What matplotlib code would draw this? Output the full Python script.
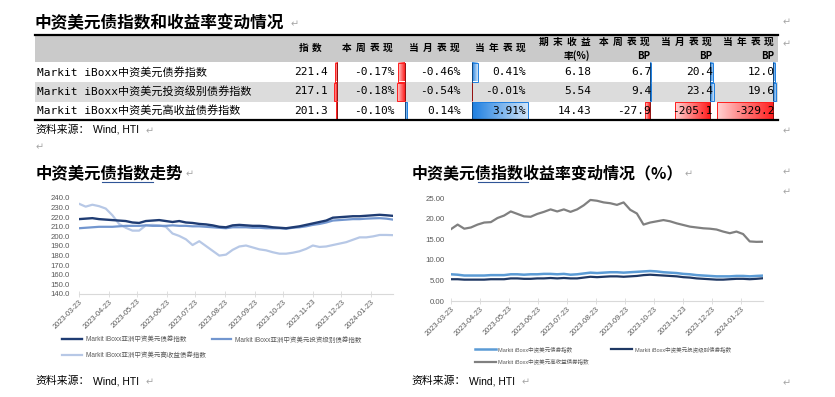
import matplotlib
matplotlib.use("Agg")
import matplotlib.pyplot as plt
import matplotlib.colors as mcolors
import matplotlib.dates as mdates
from matplotlib.patches import Rectangle
import numpy as np
import pandas as pd

plt.rcParams['font.family'] = ['Noto Sans CJK SC', 'DejaVu Sans']

# ---------------- data ----------------
table_title = "中资美元债指数和收益率变动情况"
headers = ["指数", "本周表现", "当月表现", "当年表现", "期末收益", "本周表现", "当月表现", "当年表现"]
headers_2nd = ["", "", "", "", "率(%)", "BP", "BP", "BP"]
names = ["Markit iBoxx中资美元债券指数",
         "Markit iBoxx中资美元投资级别债券指数",
         "Markit iBoxx中资美元高收益债券指数"]
index_vals = [221.4, 217.1, 201.3]
week_ret = [-0.17, -0.18, -0.10]
month_ret = [-0.46, -0.54, 0.14]
year_ret = [0.41, -0.01, 3.91]
end_yield = [6.18, 5.54, 14.43]
week_bp = [6.7, 9.4, -27.9]
month_bp = [20.4, 23.4, -205.1]
year_bp = [12.0, 19.6, -329.2]
source_text = "资料来源："
source_tail = "Wind, HTI"

left_title = "中资美元债指数走势"
right_title = "中资美元债指数收益率变动情况（%）"

dates = pd.date_range("2023-03-23", periods=48, freq="7D")
tick_dates = pd.to_datetime(["2023-03-23", "2023-04-23", "2023-05-23", "2023-06-23",
                             "2023-07-23", "2023-08-23", "2023-09-23", "2023-10-23",
                             "2023-11-23", "2023-12-23", "2024-01-23"])

idx_all = [218.0, 218.5, 219.0, 218.0, 217.5, 217.0, 216.5, 216.0, 214.5, 214.0,
           216.0, 216.5, 217.0, 216.0, 215.0, 216.0, 214.5, 214.0, 213.0, 212.5,
           211.5, 210.0, 209.5, 211.5, 212.0, 211.5, 211.0, 211.0, 210.5, 209.5,
           209.0, 208.5, 209.5, 210.5, 212.0, 213.5, 215.0, 216.5, 219.5, 220.0,
           220.5, 221.0, 221.0, 221.5, 222.0, 222.5, 222.0, 221.4]
idx_ig = [208.5, 209.0, 209.5, 210.0, 210.0, 210.0, 210.5, 211.0, 211.0, 211.0,
          211.5, 211.0, 211.0, 211.0, 211.5, 211.0, 211.0, 210.5, 210.5, 210.0,
          209.5, 209.0, 208.5, 209.5, 209.5, 209.5, 209.0, 209.0, 208.5, 208.5,
          208.5, 208.0, 209.0, 209.5, 210.5, 212.0, 213.0, 214.5, 216.5, 217.0,
          217.5, 218.0, 218.0, 218.5, 218.8, 219.0, 218.5, 217.5]
idx_hy = [234.0, 231.0, 233.0, 231.5, 229.0, 222.0, 213.0, 209.0, 206.0, 206.0,
          211.5, 212.0, 211.5, 210.0, 203.0, 200.5, 197.0, 191.0, 195.0, 190.0,
          185.0, 180.0, 181.0, 186.0, 189.5, 190.5, 188.5, 186.5, 185.5, 183.5,
          182.0, 182.0, 183.0, 184.5, 187.0, 190.5, 189.0, 189.5, 191.0, 192.5,
          194.0, 196.5, 199.0, 199.0, 200.0, 201.5, 201.5, 201.3]

yld_all = [6.5, 6.4, 6.2, 6.2, 6.2, 6.2, 6.3, 6.3, 6.3, 6.5, 6.5, 6.4, 6.5, 6.5, 6.6, 6.6,
           6.5, 6.6, 6.4, 6.5, 6.7, 6.9, 6.8, 6.9, 7.0, 7.0, 6.9, 7.0, 7.1, 7.2, 7.3, 7.2,
           7.0, 6.9, 6.8, 6.6, 6.5, 6.3, 6.2, 6.1, 6.0, 6.0, 6.0, 6.1, 6.1, 6.0, 6.1, 6.18]
yld_ig = [5.3, 5.3, 5.2, 5.2, 5.2, 5.2, 5.3, 5.3, 5.3, 5.5, 5.5, 5.4, 5.4, 5.5, 5.5, 5.6,
          5.5, 5.6, 5.5, 5.5, 5.7, 5.9, 5.8, 5.9, 6.0, 6.0, 5.9, 6.0, 6.1, 6.3, 6.4, 6.3,
          6.2, 6.1, 6.0, 5.8, 5.7, 5.5, 5.4, 5.3, 5.2, 5.2, 5.3, 5.4, 5.4, 5.3, 5.4, 5.54]
yld_hy = [17.5, 18.6, 17.6, 17.9, 18.6, 19.1, 19.2, 20.2, 20.8, 21.8, 21.2, 20.6, 20.5, 21.2,
          21.7, 22.3, 21.8, 22.3, 21.7, 22.3, 23.3, 24.6, 24.4, 24.0, 23.8, 23.4, 24.0, 22.2,
          21.3, 18.6, 19.1, 19.4, 19.7, 19.4, 18.9, 18.5, 18.1, 17.9, 17.7, 17.6, 17.4, 16.9,
          16.5, 16.9, 16.3, 14.5, 14.4, 14.43]

left_labels = ["Markit iBoxx亚洲中资美元债券指数",
               "Markit iBoxx亚洲中资美元投资级别债券指数",
               "Markit iBoxx亚洲中资美元高收益债券指数"]
right_labels = ["Markit iBoxx中资美元债券指数",
                "Markit iBoxx中资美元投资级别债券指数",
                "Markit iBoxx中资美元高收益债券指数"]

# ---------------- figure ----------------
W, H = 835, 397
fig = plt.figure(figsize=(W / 100, H / 100), dpi=100)
bg = fig.add_axes([0, 0, 1, 1])
bg.set_xlim(0, W)
bg.set_ylim(H, 0)
bg.axis('off')

CJK = ['Noto Sans CJK SC', 'DejaVu Sans']
MONO = ['DejaVu Sans Mono', 'Noto Sans CJK SC']
ARIAL = ['Liberation Sans', 'Noto Sans CJK SC']
MARK = '#a6a6a6'


def mark(x, y, size=7):
    bg.text(x, y, "↵", fontsize=size, color=MARK, family=['DejaVu Sans'], va='center', ha='left')


def tracked(xr, y, s, size, track, **kw):
    em = size * 100 / 72
    for i, ch in enumerate(reversed(s)):
        bg.text(xr - i * (em + track), y, ch, fontsize=size, ha='right', va='center',
                family=CJK, **kw)


# title
bg.text(35, 23, table_title, fontsize=12, fontweight='bold', family=CJK, va='center', ha='left')
mark(291, 24)

# table background
tl, tr = 35, 778
bg.add_patch(Rectangle((tl, 35), tr - tl, 27, color='#cacaca', lw=0, zorder=0))
bg.add_patch(Rectangle((tl, 82), tr - tl, 19.5, color='#dcdcdc', lw=0, zorder=0))
bg.plot([tl, tr], [34.5, 34.5], color='black', lw=1.6, zorder=3)
bg.plot([tl, tr], [120, 120], color='black', lw=1.6, zorder=3)

# headers
hdr_right = [322, 393, 460, 526, 590, 650, 712, 774]
for xr, h1, h2 in zip(hdr_right, headers, headers_2nd):
    if h2:
        tracked(xr, 42, h1, 7, 4.0, fontweight='bold')
        bg.text(xr, 56, h2, fontsize=7, fontweight='bold', family=CJK, ha='right', va='center')
    else:
        tracked(xr, 48, h1, 7, 4.0, fontweight='bold')

row_y = [72, 91.5, 110.5]
row_top = [62.5, 82.5, 102]
row_bot = [81.5, 101, 119]


def gradient_bar(xa, xe, y0, y1, color):
    c = np.array(mcolors.to_rgb(color))
    light = c + (1 - c) * 0.8
    t = np.linspace(0, 1, 64)[:, None]
    img = (c[None, :] * (1 - t) + light[None, :] * t)[None, :, :]
    left, right = min(xa, xe), max(xa, xe)
    if xe < xa:
        img = img[:, ::-1, :]
    if right - left > 0.05:
        bg.imshow(img, extent=[left, right, y1, y0], aspect='auto',
                  interpolation='bilinear', zorder=1)
        bg.add_patch(Rectangle((left, y0), right - left, y1 - y0, fill=False,
                               edgecolor=color, lw=0.7, zorder=2))


def databar_cols(cols, lefts, width, text_right, fmt):
    allv = [v for col in cols for v in col]
    gmin, gmax = min(allv + [0]), max(allv + [0])
    scale = width / (gmax - gmin)
    for col, L, xr in zip(cols, lefts, text_right):
        axis = L + (-gmin) * scale
        for r, v in enumerate(col):
            gradient_bar(axis, axis + v * scale, row_top[r], row_bot[r],
                         '#1E7FE0' if v >= 0 else '#FF1E1E')
            bg.plot([axis, axis], [row_top[r], row_bot[r]], color='black', lw=0.6,
                    ls=(0, (1.2, 1.2)), zorder=3)
            bg.text(xr, row_y[r], fmt(v), fontsize=8, family=MONO, ha='right',
                    va='center', zorder=4)


for r in range(3):
    bg.text(37, row_y[r], names[r], fontsize=8, family=MONO, ha='left', va='center', zorder=4)
    bg.text(328, row_y[r], f"{index_vals[r]:.1f}", fontsize=8, family=MONO, ha='right',
            va='center', zorder=4)
    bg.text(591, row_y[r], f"{end_yield[r]:.2f}", fontsize=8, family=MONO, ha='right',
            va='center', zorder=4)

databar_cols([week_ret, month_ret, year_ret], [329.2, 397.2, 464.2], 64,
             [395, 461, 526], lambda v: f"{v:.2f}%")
databar_cols([week_bp, month_bp, year_bp], [593.5, 654, 717], 60,
             [651, 713, 775], lambda v: f"{v:.1f}")


# sources / marks
def source(x, y):
    bg.text(x, y, source_text, fontsize=7.8, family=CJK, ha='left', va='center')
    bg.text(x + 58, y, source_tail, fontsize=7.5, family=ARIAL, ha='left', va='center')
    mark(x + 111, y + 1)


source(35, 130)
source(35, 381)
source(411, 381)
for (mx, my) in [(783, 22), (783, 44), (783, 131), (36, 147), (783, 172), (783, 192), (783, 383)]:
    mark(mx, my)

# chart titles
bg.text(36, 173, left_title, fontsize=11.8, fontweight='bold', family=CJK, ha='left', va='center')
mark(186, 174)
bg.plot([102, 153], [181.8, 181.8], color='#2f5597', lw=0.8)
bg.text(412, 173, right_title, fontsize=11.5, fontweight='bold', family=CJK, ha='left', va='center')
mark(685, 174)
bg.plot([478, 528], [182.3, 182.3], color='#2f5597', lw=0.8)

bg.set_xlim(0, W)
bg.set_ylim(H, 0)

# ---------------- charts ----------------
TICKC = '#595959'


def style_axes(ax, tickfont, pad):
    for s in ['left', 'right', 'top']:
        ax.spines[s].set_visible(False)
    ax.spines['bottom'].set_color('#d9d9d9')
    ax.spines['bottom'].set_linewidth(0.8)
    ax.set_xticks(tick_dates)
    ax.xaxis.set_major_formatter(mdates.DateFormatter('%Y-%m-%d'))
    ax.tick_params(axis='x', direction='inout', length=4, width=0.6, color='#d9d9d9',
                   labelsize=tickfont, labelcolor=TICKC, pad=1)
    ax.tick_params(axis='y', length=0, labelsize=tickfont + 0.3, labelcolor=TICKC, pad=pad)
    for lab in ax.get_xticklabels():
        lab.set_rotation(45)
        lab.set_ha('right')
        lab.set_va('top')
        lab.set_rotation_mode('anchor')
        lab.set_family(ARIAL)
    for lab in ax.get_yticklabels():
        lab.set_family(ARIAL)
    ax.set_xlim(dates[0], dates[-1])
    ax.patch.set_alpha(0)


# left chart
axL = fig.add_axes([79 / W, 1 - 294 / H, (393 - 79) / W, 96 / H])
l1, = axL.plot(dates, idx_all, color='#1f3c73', lw=1.7, zorder=3)
l2, = axL.plot(dates, idx_ig, color='#7296cf', lw=1.6, zorder=2)
l3, = axL.plot(dates, idx_hy, color='#b7c8e6', lw=1.6, zorder=1)
axL.set_ylim(140, 240)
axL.set_yticks(np.arange(140, 241, 10))
axL.yaxis.set_major_formatter(matplotlib.ticker.FormatStrFormatter('%.1f'))
style_axes(axL, 5.3, 6.5)
axL.legend([l1, l3, l2], [left_labels[0], left_labels[2], left_labels[1]], ncol=2,
           loc='upper left', bbox_to_anchor=(62 / W, 1 - 336.5 / H), bbox_transform=fig.transFigure,
           frameon=False, borderpad=0, borderaxespad=0, handlelength=3.0, handletextpad=0.6,
           columnspacing=1.0, labelspacing=1.3,
           prop={'family': ARIAL, 'size': 4.7}, labelcolor=TICKC)

# right chart
axR = fig.add_axes([451 / W, 1 - 301 / H, (763 - 451) / W, 102.7 / H])
r1, = axR.plot(dates, yld_all, color='#5b9bd5', lw=1.8, zorder=2)
r2, = axR.plot(dates, yld_ig, color='#1f3864', lw=1.6, zorder=3)
r3, = axR.plot(dates, yld_hy, color='#808080', lw=1.6, zorder=1)
axR.set_ylim(0, 25)
axR.set_yticks(np.arange(0, 26, 5))
axR.yaxis.set_major_formatter(matplotlib.ticker.FormatStrFormatter('%.2f'))
style_axes(axR, 5.3, 4.5)
axR.legend([r1, r3, r2], [right_labels[0], right_labels[2], right_labels[1]], ncol=2,
           loc='upper left', bbox_to_anchor=(475 / W, 1 - 346 / H), bbox_transform=fig.transFigure,
           frameon=False, borderpad=0, borderaxespad=0, handlelength=3.8, handletextpad=0.4,
           columnspacing=4.0, labelspacing=1.2,
           prop={'family': ARIAL, 'size': 4.0}, labelcolor=TICKC)

fig.savefig("out.png", dpi=100)
